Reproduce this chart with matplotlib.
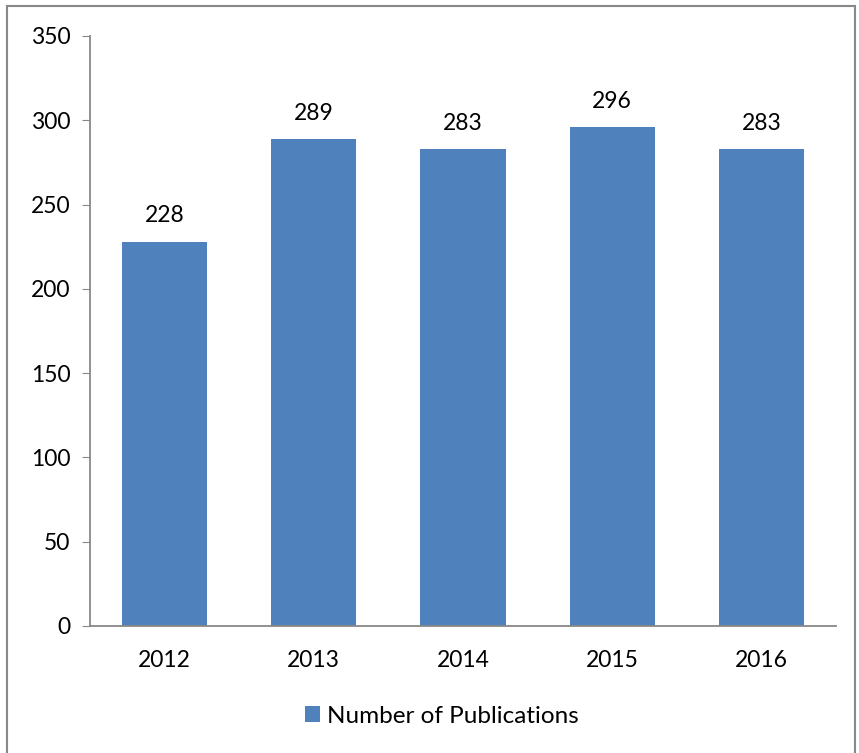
import matplotlib
matplotlib.use("Agg")
import matplotlib.pyplot as plt
from matplotlib.patches import Rectangle

years = ["2012", "2013", "2014", "2015", "2016"]
publications = [228, 289, 283, 296, 283]

plt.rcParams['font.family'] = ['Lato', 'DejaVu Sans']

fig = plt.figure(figsize=(8.59, 7.53), dpi=100)
# outer chart border
fig.patches.append(Rectangle((7 / 859, -0.01), (855 - 7) / 859, 1 - 6 / 753 + 0.01,
                             transform=fig.transFigure, fill=False,
                             edgecolor='#888888', linewidth=1.5))

ax = fig.add_axes([90 / 859, 1 - 626 / 753, (836 - 90) / 859, (626 - 36) / 753])
x = range(len(years))
bars = ax.bar(x, publications, width=0.57, color='#4F81BD', label='Number of Publications')
for xi, v in zip(x, publications):
    ax.text(xi, v + 9, str(v), ha='center', va='bottom', fontsize=16.5)

ax.set_xlim(-0.5, len(years) - 0.5)
ax.set_ylim(0, 350)
ax.set_yticks(range(0, 351, 50))
ax.set_xticks(list(x))
ax.set_xticklabels(years)
ax.tick_params(axis='x', length=0, labelsize=16.5, pad=17)
ax.tick_params(axis='y', length=6, color='#888888', labelsize=16.5, pad=8, direction='out')
for s in ['top', 'right']:
    ax.spines[s].set_visible(False)
for s in ['left', 'bottom']:
    ax.spines[s].set_color('#888888')
    ax.spines[s].set_linewidth(1.3)

ax.legend(loc='center', bbox_to_anchor=(0.472, -0.153), frameon=False, fontsize=17.5,
          handlelength=0.6, handleheight=0.6, handletextpad=0.3)

fig.savefig('out.png', dpi=100)
